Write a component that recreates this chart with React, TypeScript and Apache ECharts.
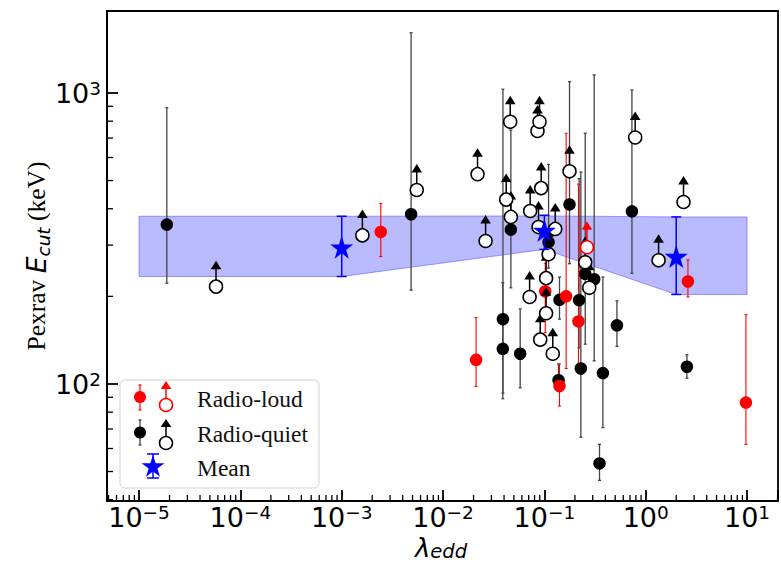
import React, { useEffect, useRef } from 'react';
import * as echarts from 'echarts';

// ---------------- data ----------------
const X_MIN = 4.83e-6;
const X_MAX = 20.2;
const Y_MIN = 39.6;
const Y_MAX = 1913;

// [lambda_edd, Ecut, lower error end, upper error end]
const radioLoud: number[][] = [
  [2.43e-3, 333, 274, 417],
  [0.0212, 121, 98, 169],
  [0.102, 208, 150, 260],
  [0.164, 200, 113, 727],
  [0.217, 164, 110, 486],
  [0.141, 98.4, 84, 117],
  [2.61, 225, 199, 267],
  [9.75, 86.3, 62, 173],
];

const radioQuiet: number[][] = [
  [1.88e-5, 353, 222, 890],
  [4.84e-3, 383, 210, 1611],
  [0.039, 167, 93, 1030],
  [0.0389, 132, 89, 223],
  [0.0577, 127, 97, 181],
  [0.0467, 339, 214, 745],
  [0.11, 307, 250, 568],
  [0.141, 194.5, 167, 233],
  [0.138, 103, 96, 117],
  [0.177, 414, 259, 1094],
  [0.22, 194, 133, 508],
  [0.229, 113, 65.6, 535],
  [0.253, 239, 137, 727],
  [0.31, 229, 120, 1154],
  [0.378, 109, 70.8, 233],
  [0.35, 53.3, 46.6, 62],
  [0.52, 159, 134.6, 193],
  [0.731, 392, 240, 1024],
  [2.55, 114.6, 104.7, 126],
];

// lower limits (open circles with upward arrows)
const radioLoudLimits: number[][] = [[0.263, 295]];

const radioQuietLimits: number[][] = [
  [5.75e-5, 216],
  [1.6e-3, 324],
  [5.5e-3, 464],
  [0.0219, 526],
  [0.0263, 310],
  [0.042, 430],
  [0.046, 796],
  [0.0467, 375],
  [0.0855, 740],
  [0.0895, 796],
  [0.093, 471],
  [0.0724, 393],
  [0.0875, 346],
  [0.128, 341],
  [0.177, 538],
  [0.11, 279],
  [0.104, 231],
  [0.0715, 199],
  [0.104, 175],
  [0.091, 142],
  [0.121, 127],
  [0.253, 262],
  [0.277, 214],
  [0.787, 703],
  [1.34, 266],
  [2.36, 422],
];

// [lambda_edd, mean, lower, upper]
const means: number[][] = [
  [1e-3, 295, 234, 377],
  [0.1, 337, 290, 380],
  [2.0, 274, 203, 375],
];

const bandX = [1e-5, 1e-3, 0.1, 2, 10];
const bandUpper = [377, 377, 378, 375, 375];
const bandLower = [234, 234, 290, 203, 203];

const xDecades = [-6, -5, -4, -3, -2, -1, 0, 1];
const yDecades = [1, 2, 3];

// ---------------- helpers ----------------
const STAR =
  'path://M50,0L61.23,34.55L97.55,34.55L68.16,55.9L79.39,90.45L50,69.1L20.61,90.45L31.84,55.9L2.45,34.55L38.77,34.55Z';

function minorValues(decades: number[], lo: number, hi: number) {
  const out: number[] = [];
  decades.forEach((d) => {
    for (let k = 2; k <= 9; k++) {
      const v = k * Math.pow(10, d);
      if (v > lo && v < hi) out.push(v);
    }
  });
  return out;
}

function powLabel(v: number) {
  const e = Math.log10(v);
  const r = Math.round(e);
  if (Math.abs(e - r) > 1e-6) return '';
  const s = r < 0 ? '\u2212' + -r : String(r);
  return `{b|10}{s|${s}}`;
}

const tickRich = {
  b: {
    fontFamily: 'DejaVu Sans',
    fontSize: 27,
    lineHeight: 28,
    verticalAlign: 'bottom',
    color: '#000',
  },
  s: {
    fontFamily: 'DejaVu Sans',
    fontSize: 18.5,
    lineHeight: 10,
    verticalAlign: 'top',
    color: '#000',
  },
};

function errRender(color: string, width: number, cap: number) {
  return (_p: any, api: any) => {
    const x = api.value(0);
    const lo = api.value(2);
    const hi = api.value(3);
    const a = api.coord([x, lo]);
    const b = api.coord([x, hi]);
    const st = { stroke: color, lineWidth: width };
    return {
      type: 'group',
      children: [
        { type: 'line', shape: { x1: a[0], y1: a[1], x2: b[0], y2: b[1] }, style: st },
        { type: 'line', shape: { x1: a[0] - cap, y1: a[1], x2: a[0] + cap, y2: a[1] }, style: st },
        { type: 'line', shape: { x1: b[0] - cap, y1: b[1], x2: b[0] + cap, y2: b[1] }, style: st },
      ],
    };
  };
}

function arrowRender(color: string) {
  return (_p: any, api: any) => {
    const c = api.coord([api.value(0), api.value(1)]);
    return {
      type: 'group',
      children: [
        {
          type: 'line',
          shape: { x1: c[0], y1: c[1], x2: c[0], y2: c[1] - 19 },
          style: { stroke: color, lineWidth: 1.5 },
        },
        {
          type: 'polygon',
          shape: {
            points: [
              [c[0], c[1] - 26],
              [c[0] - 5.3, c[1] - 17.5],
              [c[0] + 5.3, c[1] - 17.5],
            ],
          },
          style: { fill: color },
        },
      ],
    };
  };
}

function starPts(cx: number, cy: number, R: number) {
  const pts: number[][] = [];
  for (let k = 0; k < 10; k++) {
    const r = k % 2 ? R * 0.382 : R;
    const a = -Math.PI / 2 + (k * Math.PI) / 5;
    pts.push([cx + r * Math.cos(a), cy + r * Math.sin(a)]);
  }
  return pts;
}

function legendGraphic() {
  const serif = 'Liberation Serif';
  const txt = (t: string, y: number) => ({
    type: 'text',
    x: 197,
    y,
    style: { text: t, fontFamily: serif, fontSize: 23.5, fill: '#111', align: 'left', verticalAlign: 'middle' },
  });
  const errV = (x: number, y1: number, y2: number, color: string, cap: number, w: number) => [
    { type: 'line', shape: { x1: x, y1, x2: x, y2 }, style: { stroke: color, lineWidth: w } },
    { type: 'line', shape: { x1: x - cap, y1, x2: x + cap, y2: y1 }, style: { stroke: color, lineWidth: w } },
    { type: 'line', shape: { x1: x - cap, y1: y2, x2: x + cap, y2 }, style: { stroke: color, lineWidth: w } },
  ];
  const arrow = (x: number, cy: number, color: string) => [
    { type: 'line', shape: { x1: x, y1: cy, x2: x, y2: cy - 17 }, style: { stroke: color, lineWidth: 1.5 } },
    {
      type: 'polygon',
      shape: { points: [[x, cy - 24], [x - 5.3, cy - 16], [x + 5.3, cy - 16]] },
      style: { fill: color },
    },
    { type: 'circle', shape: { cx: x, cy, r: 6.5 }, style: { fill: '#fff', stroke: color, lineWidth: 1.5 } },
  ];
  return {
    type: 'group',
    z: 100,
    children: [
      {
        type: 'rect',
        shape: { x: 120, y: 380, width: 199, height: 108, r: 5 },
        style: { fill: 'rgba(255,255,255,0.85)', stroke: '#d4d4d4', lineWidth: 1 },
      },
      ...errV(140, 385, 410, '#ff0000', 1.5, 1.2),
      { type: 'circle', shape: { cx: 140, cy: 397, r: 6 }, style: { fill: '#ff0000' } },
      ...arrow(166, 405, '#ff0000'),
      txt('Radio-loud', 399),
      ...errV(140, 420, 445, '#333', 1.5, 1.2),
      { type: 'circle', shape: { cx: 140, cy: 432.5, r: 6 }, style: { fill: '#000' } },
      ...arrow(166, 443, '#000'),
      txt('Radio-quiet', 434),
      ...errV(153, 454, 478, '#0000ff', 6, 1.5),
      { type: 'polygon', shape: { points: starPts(153, 467, 12) }, style: { fill: '#0000ff' } },
      txt('Mean', 468),
    ],
  };
}

// ---------------- component ----------------
export default function App() {
  const ref = useRef<HTMLDivElement>(null);

  useEffect(() => {
    if (!ref.current) return;
    const chart = echarts.init(ref.current, null, { renderer: 'svg' });

    const xMinor = minorValues(xDecades, X_MIN, X_MAX);
    const yMinor = minorValues(yDecades, Y_MIN, Y_MAX);

    const option: any = {
      animation: false,
      backgroundColor: '#fff',
      textStyle: { fontFamily: 'DejaVu Sans' },
      grid: {
        left: 107,
        right: 3,
        top: 11,
        bottom: 62,
        show: true,
        borderColor: '#000',
        borderWidth: 1.8,
        containLabel: false,
      },
      xAxis: {
        type: 'log',
        logBase: 10,
        min: X_MIN,
        max: X_MAX,
        splitLine: { show: false },
        axisLine: { show: true, lineStyle: { color: '#000', width: 1.8 } },
        axisTick: { show: true, inside: true, length: 11, lineStyle: { color: '#000', width: 1.8 } },
        axisLabel: { margin: 2, formatter: powLabel, rich: tickRich, showMinLabel: true, showMaxLabel: true },
      },
      yAxis: {
        type: 'log',
        logBase: 10,
        min: Y_MIN,
        max: Y_MAX,
        splitLine: { show: false },
        axisLine: { show: true, lineStyle: { color: '#000', width: 1.8 } },
        axisTick: { show: true, inside: true, length: 11, lineStyle: { color: '#000', width: 1.8 } },
        axisLabel: { margin: 6, formatter: powLabel, rich: tickRich },
      },
      graphic: [
        {
          type: 'text',
          x: 38,
          y: 256,
          rotation: Math.PI / 2,
          style: {
            text: '{a|Pexrav }{e|E}{c|cut}{a| (keV)}',
            align: 'center',
            verticalAlign: 'middle',
            fill: '#000',
            rich: {
              a: { fontFamily: 'Liberation Serif', fontSize: 25.5, lineHeight: 30, verticalAlign: 'top', fill: '#000' },
              e: {
                fontFamily: 'DejaVu Sans',
                fontStyle: 'italic',
                fontSize: 26.5,
                lineHeight: 30,
                verticalAlign: 'top',
                fill: '#000',
              },
              c: {
                fontFamily: 'DejaVu Sans',
                fontStyle: 'italic',
                fontSize: 18.5,
                lineHeight: 14,
                verticalAlign: 'bottom',
                fill: '#000',
              },
            },
          },
        },
        {
          type: 'text',
          x: 441,
          y: 548,
          style: {
            text: '{l|\u03bb}{d|edd}',
            align: 'center',
            verticalAlign: 'middle',
            fill: '#000',
            rich: {
              l: {
                fontFamily: 'DejaVu Sans',
                fontStyle: 'italic',
                fontSize: 26,
                lineHeight: 27,
                verticalAlign: 'top',
                fill: '#000',
              },
              d: {
                fontFamily: 'DejaVu Sans',
                fontStyle: 'italic',
                fontSize: 19.5,
                lineHeight: 20,
                verticalAlign: 'bottom',
                fill: '#000',
              },
            },
          },
        },
        legendGraphic(),
      ],
      series: [
        // shaded band
        {
          type: 'custom',
          name: 'band',
          silent: true,
          z: 1,
          data: [[bandX[0], bandUpper[0]]],
          renderItem: (_p: any, api: any) => {
            const up = bandX.map((x, i) => api.coord([x, bandUpper[i]]));
            const lo = bandX.map((x, i) => api.coord([x, bandLower[i]])).reverse();
            return {
              type: 'polygon',
              shape: { points: up.concat(lo) },
              style: { fill: 'rgba(0,0,255,0.27)', stroke: 'rgba(0,0,255,0.35)', lineWidth: 1 },
            };
          },
        },
        // minor ticks
        {
          type: 'custom',
          name: 'xminor',
          silent: true,
          clip: false,
          z: 20,
          data: xMinor.map((v) => [v, Y_MIN]),
          renderItem: (_p: any, api: any) => {
            const c = api.coord([api.value(0), Y_MIN]);
            return {
              type: 'line',
              shape: { x1: c[0], y1: c[1], x2: c[0], y2: c[1] - 6 },
              style: { stroke: '#000', lineWidth: 1.3 },
            };
          },
        },
        {
          type: 'custom',
          name: 'yminor',
          silent: true,
          clip: false,
          z: 20,
          data: yMinor.map((v) => [X_MIN, v]),
          renderItem: (_p: any, api: any) => {
            const c = api.coord([X_MIN, api.value(1)]);
            return {
              type: 'line',
              shape: { x1: c[0], y1: c[1], x2: c[0] + 6, y2: c[1] },
              style: { stroke: '#000', lineWidth: 1.3 },
            };
          },
        },
        // error bars
        {
          type: 'custom',
          name: 'rq-err',
          silent: true,
          z: 2,
          data: radioQuiet,
          renderItem: errRender('#444', 1.3, 1.5),
        },
        {
          type: 'custom',
          name: 'rl-err',
          silent: true,
          z: 2,
          data: radioLoud,
          renderItem: errRender('#ff0000', 1.1, 1.5),
        },
        // filled points
        {
          type: 'scatter',
          name: 'Radio-quiet',
          z: 3,
          symbol: 'circle',
          symbolSize: 12.5,
          itemStyle: { color: '#000', opacity: 1 },
          data: radioQuiet.map((d) => [d[0], d[1]]),
        },
        {
          type: 'scatter',
          name: 'Radio-loud',
          z: 3,
          symbol: 'circle',
          symbolSize: 12.5,
          itemStyle: { color: '#ff0000', opacity: 1 },
          data: radioLoud.map((d) => [d[0], d[1]]),
        },
        // lower-limit arrows
        {
          type: 'custom',
          name: 'rq-arrows',
          silent: true,
          z: 4,
          data: radioQuietLimits,
          renderItem: arrowRender('#000'),
        },
        {
          type: 'custom',
          name: 'rl-arrows',
          silent: true,
          z: 4,
          data: radioLoudLimits,
          renderItem: arrowRender('#ff0000'),
        },
        // open circles
        {
          type: 'scatter',
          name: 'Radio-quiet limits',
          z: 5,
          symbol: 'circle',
          symbolSize: 13,
          itemStyle: { color: '#fff', borderColor: '#000', borderWidth: 1.5, opacity: 1 },
          data: radioQuietLimits,
        },
        {
          type: 'scatter',
          name: 'Radio-loud limits',
          z: 5,
          symbol: 'circle',
          symbolSize: 13,
          itemStyle: { color: '#fff', borderColor: '#ff0000', borderWidth: 1.5, opacity: 1 },
          data: radioLoudLimits,
        },
        // means
        {
          type: 'custom',
          name: 'mean-err',
          silent: true,
          z: 6,
          data: means,
          renderItem: errRender('#0000ff', 1.5, 5),
        },
        {
          type: 'scatter',
          name: 'Mean',
          z: 7,
          symbol: STAR,
          symbolSize: 23,
          itemStyle: { color: '#0000ff', opacity: 1 },
          data: means.map((d) => [d[0], d[1]]),
        },
      ],
    };

    chart.setOption(option);
    return () => chart.dispose();
  }, []);

  return (
    <div
      ref={ref}
      style={{ position: 'absolute', left: 0, top: 0, width: 781, height: 563, background: '#fff' }}
    />
  );
}
